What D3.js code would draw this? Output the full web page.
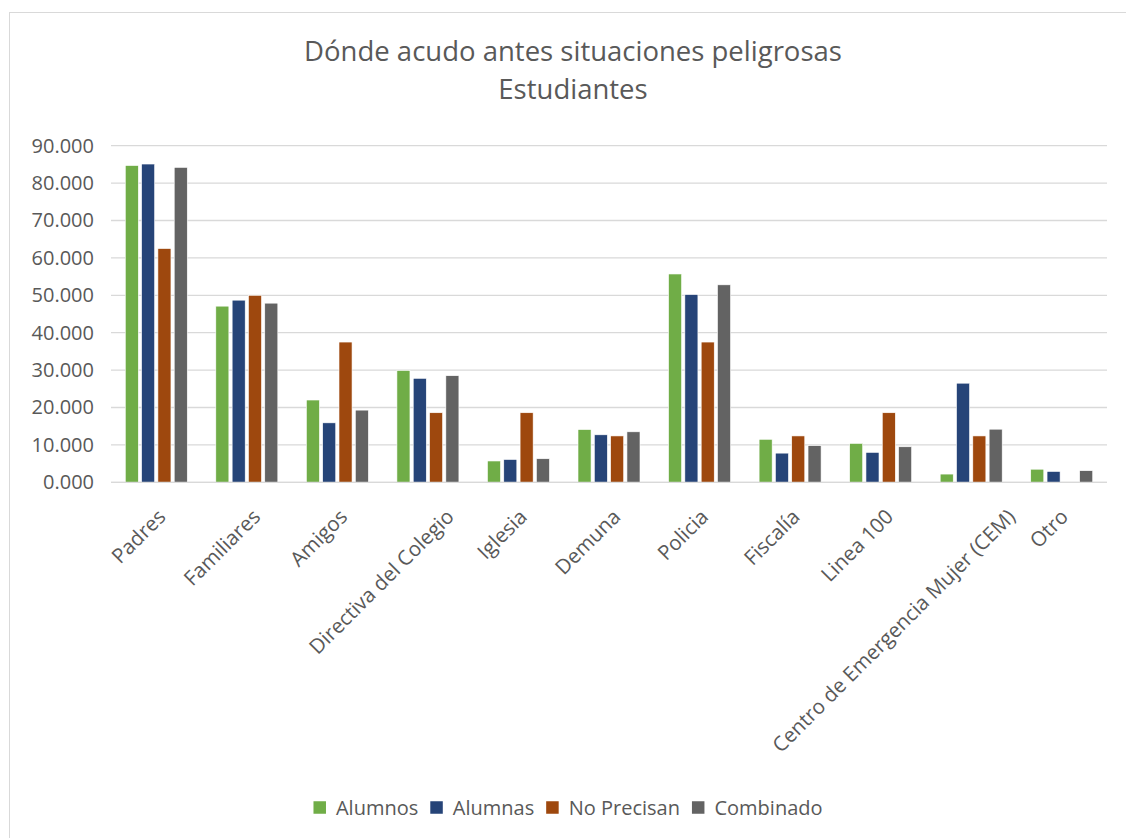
<!DOCTYPE html>
<html>
<head>
<meta charset="utf-8">
<script src="https://cdn.jsdelivr.net/npm/d3@7"></script>
<style>
  body { margin: 0; background: #fff; }
  text { font-family: "Open Sans", Lato, sans-serif; fill: #595959; }
</style>
</head>
<body>
<div id="chart"></div>
<script>
let categories = ['Padres', 'Familiares', 'Amigos', 'Directiva del Colegio', 'Iglesia', 'Demuna',
                  'Policia', 'Fiscalía', 'Linea 100', 'Centro de Emergencia Mujer (CEM)', 'Otro'];
let seriesNames = ['Alumnos', 'Alumnas', 'No Precisan', 'Combinado'];
let alumnos    = [84.7, 47.1, 22.0, 29.9, 5.7, 14.1, 55.7, 11.5, 10.4, 2.2, 3.5];
let alumnas    = [85.1, 48.7, 15.9, 27.8, 6.1, 12.7, 50.2, 7.8, 8.0, 26.5, 2.9];
let noPrecisan = [62.5, 50.0, 37.5, 18.6, 18.6, 12.4, 37.5, 12.4, 18.6, 12.4, 0];
let combinado  = [84.2, 47.9, 19.3, 28.5, 6.3, 13.5, 52.8, 9.8, 9.5, 14.2, 3.1];
let yTicks = [0, 10, 20, 30, 40, 50, 60, 70, 80, 90];
let colors = ['#70AD47', '#264478', '#9E480E', '#636363'];

let width = 1126, height = 838;
let values = [alumnos, alumnas, noPrecisan, combinado];

let svg = d3.select('#chart').append('svg')
            .attr('width', width)
            .attr('height', height);

// chart border (only top/left visible in the original)
svg.append('rect')
   .attr('x', 9.5).attr('y', 12.5)
   .attr('width', width + 20).attr('height', height + 20)
   .attr('fill', 'none')
   .attr('stroke', '#D9D9D9');

let x0 = d3.scaleBand()
           .domain(categories)
           .range([111, 1107]);
let x1 = d3.scaleBand()
           .domain(seriesNames)
           .range([0, x0.bandwidth()])
           .paddingInner(0.2)
           .paddingOuter(0.875);
let y = d3.scaleLinear()
          .domain([0, 90])
          .range([482.3, 145.7]);

// gridlines
svg.append('g')
   .selectAll('line')
   .data(yTicks)
   .enter()
   .append('line')
   .attr('x1', 111).attr('x2', 1107)
   .attr('y1', d => y(d)).attr('y2', d => y(d))
   .attr('stroke', '#D9D9D9')
   .attr('stroke-width', 1.3);

// y axis labels
let yAxis = svg.append('g')
               .attr('transform', 'translate(111, 0)')
               .call(d3.axisLeft(y).tickValues(yTicks).tickSize(0).tickPadding(17)
                       .tickFormat(d => d3.format('.3f')(d)));
yAxis.select('.domain').remove();
yAxis.selectAll('text')
     .style('font-family', '"Open Sans", sans-serif')
     .style('font-size', '20px')
     .attr('fill', '#595959');

// bars
let groups = svg.append('g')
                .selectAll('g')
                .data(categories)
                .enter()
                .append('g')
                .attr('transform', d => `translate(${x0(d)}, 0)`);

groups.selectAll('rect')
      .data((c, i) => seriesNames.map((s, j) => ({ s: s, v: values[j][i], j: j })))
      .enter()
      .append('rect')
      .attr('x', d => x1(d.s))
      .attr('width', x1.bandwidth())
      .attr('y', d => y(d.v))
      .attr('height', d => y(0) - y(d.v))
      .attr('fill', d => colors[d.j])
      .attr('stroke', '#fff')
      .attr('stroke-width', 0.6);

// x axis line
svg.append('line')
   .attr('x1', 111).attr('x2', 1107)
   .attr('y1', y(0)).attr('y2', y(0))
   .attr('stroke', '#D9D9D9')
   .attr('stroke-width', 1.3);

// category labels, rotated; long labels sit a bit further right, like Excel does
let catLabels = svg.append('g')
                   .selectAll('text')
                   .data(categories)
                   .enter()
                   .append('text')
                   .attr('text-anchor', 'end')
                   .attr('dy', '0.35em')
                   .style('font-size', '20.5px')
                   .text(d => d);
catLabels.attr('transform', function(d) {
  let len = this.getComputedTextLength();
  let shift = Math.max(0, 0.13 * len - 5);
  return `translate(${x0(d) + x0.bandwidth() / 2 + 2 + shift}, 513) rotate(-45)`;
});

// title
svg.append('text')
   .attr('x', 573).attr('y', 61)
   .attr('text-anchor', 'middle')
   .style('font-size', '27.5px')
   .text('Dónde acudo antes situaciones peligrosas');
svg.append('text')
   .attr('x', 573).attr('y', 99)
   .attr('text-anchor', 'middle')
   .style('font-size', '27.5px')
   .text('Estudiantes');

// legend: items laid out one after another, centred under the plot
let sq = 12.5, sqGap = 10, itemGap = 12;
let legend = svg.append('g');
let items = legend.selectAll('g')
                  .data(seriesNames)
                  .enter()
                  .append('g');
items.append('rect')
     .attr('x', 0).attr('y', -sq / 2)
     .attr('width', sq).attr('height', sq)
     .attr('fill', (d, i) => colors[i]);
items.append('text')
     .attr('x', sq + sqGap)
     .attr('dy', '0.35em')
     .style('font-size', '20px')
     .text(d => d);
let offset = 0;
items.each(function() {
  let w = d3.select(this).select('text').node().getComputedTextLength();
  d3.select(this).attr('transform', `translate(${offset}, 0)`);
  offset += sq + sqGap + w + itemGap;
});
offset -= itemGap;
legend.attr('transform', `translate(${568 - offset / 2}, 807.5)`);
</script>
</body>
</html>
